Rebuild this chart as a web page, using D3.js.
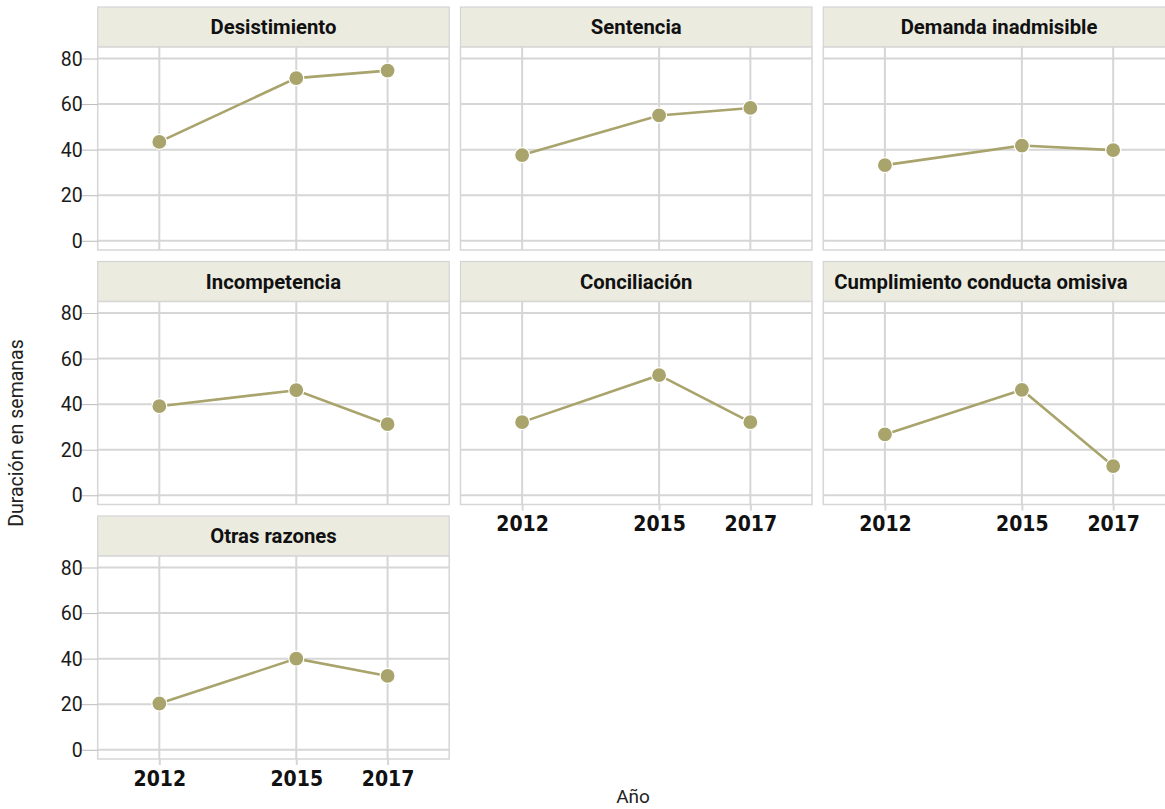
<!DOCTYPE html>
<html>
<head>
<meta charset="utf-8">
<script src="https://cdn.jsdelivr.net/npm/d3@7"></script>
<style>
  body { margin: 0; background: #fff; }
  svg { display: block; }
  .strip-text { font-family: "Roboto", "DejaVu Sans Condensed", sans-serif; font-weight: bold; font-size: 20.3px; fill: #111; }
  .xlab { font-family: "DejaVu Sans Condensed", "Roboto", sans-serif; font-weight: bold; font-size: 21px; fill: #111; }
  .ylab { font-family: "Roboto", "Noto Sans", sans-serif; font-size: 19.5px; fill: #1a1a1a; }
  .title { font-family: "Roboto", "Noto Sans", sans-serif; font-size: 19px; fill: #222; }
</style>
</head>
<body>
<svg id="chart" width="1165" height="809"></svg>
<script>
// ---- Data ----
const categories = [
  "Desistimiento", "Sentencia", "Demanda inadmisible",
  "Incompetencia", "Conciliación", "Cumplimiento conducta omisiva",
  "Otras razones"
];
const years = [2012, 2015, 2017];
const desistimiento = [43.4, 71.4, 74.7];
const sentencia = [37.6, 55.0, 58.3];
const demandaInadmisible = [33.2, 41.8, 39.8];
const incompetencia = [39.1, 46.1, 31.2];
const conciliacion = [32.1, 52.7, 32.1];
const cumplimiento = [26.7, 46.3, 12.8];
const otrasRazones = [20.3, 40.0, 32.4];
const seriesValues = [desistimiento, sentencia, demandaInadmisible, incompetencia, conciliacion, cumplimiento, otrasRazones];
const yTicks = [0, 20, 40, 60, 80];
const xTickLabels = ["2012", "2015", "2017"];
const xTitle = "Año";
const yTitle = "Duración en semanas";

// ---- Layout ----
const svg = d3.select("#chart");
const nCols = 3;
const colLeft = 97.7, colPitch = 362.8;
const rowTop = 7, rowPitch = 254.5;
const stripH = 40, panelW = 351.5, panelH = 203;
const color = "#a9a36c";
const gridColor = "#d6d6d6";

const x = d3.scaleLinear().domain([2010.65, 2018.35]).range([0, panelW]);
const y = d3.scaleLinear().domain([-4.05, 85.05]).range([panelH, 0]);

categories.forEach((cat, i) => {
  const col = i % nCols, row = Math.floor(i / nCols);
  const gx = colLeft + col * colPitch;
  const gy = rowTop + row * rowPitch;
  const g = svg.append("g").attr("transform", `translate(${gx},${gy})`);

  // strip
  g.append("rect").attr("x", 0).attr("y", 0).attr("width", panelW).attr("height", stripH)
    .attr("fill", "#ecebe0").attr("stroke", "#d4d4d4").attr("stroke-width", 1.2);
  const st = g.append("text").attr("class", "strip-text")
    .attr("x", panelW / 2).attr("y", stripH / 2 + 7).attr("text-anchor", "middle").text(cat);
  const tw = st.node().getComputedTextLength();
  if (tw > 250) st.attr("text-anchor", "start").attr("x", 11);

  const p = g.append("g").attr("transform", `translate(0,${stripH})`);
  p.append("rect").attr("width", panelW).attr("height", panelH)
    .attr("fill", "#fff").attr("stroke", gridColor).attr("stroke-width", 1.5);

  // grid
  p.selectAll(".hg").data(yTicks).join("line")
    .attr("x1", 0).attr("x2", panelW).attr("y1", d => y(d)).attr("y2", d => y(d))
    .attr("stroke", gridColor).attr("stroke-width", 2);
  p.selectAll(".vg").data(years).join("line")
    .attr("y1", 0).attr("y2", panelH).attr("x1", d => x(d)).attr("x2", d => x(d))
    .attr("stroke", gridColor).attr("stroke-width", 2);

  // y axis on left column
  if (col === 0) {
    const ya = p.append("g").call(d3.axisLeft(y).tickValues(yTicks).tickSize(16).tickPadding(-1));
    ya.select(".domain").remove();
    ya.selectAll(".tick line").attr("stroke", "#bbb").attr("stroke-width", 1);
    ya.selectAll(".tick text").attr("class", "ylab").attr("dy", "0.34em").attr("fill", null);
    ya.attr("font-family", null).attr("font-size", null);
  }
  // x axis on bottom panel of each column
  const isBottom = (i + nCols >= categories.length);
  if (isBottom) {
    const xa = p.append("g").attr("transform", `translate(0,${panelH})`)
      .call(d3.axisBottom(x).tickValues(years).tickFormat((d, k) => xTickLabels[k]).tickSize(6).tickPadding(6));
    xa.select(".domain").remove();
    xa.selectAll(".tick line").attr("stroke", gridColor).attr("stroke-width", 2);
    xa.selectAll(".tick text").attr("class", "xlab").attr("fill", null);
    xa.attr("font-family", null).attr("font-size", null);
  }

  // data
  const vals = seriesValues[i];
  const pts = years.map((yr, k) => ({ yr, v: vals[k] }));
  p.append("path").datum(pts)
    .attr("d", d3.line().x(d => x(d.yr)).y(d => y(d.v)))
    .attr("fill", "none").attr("stroke", color).attr("stroke-width", 2.6);
  p.selectAll("circle").data(pts).join("circle")
    .attr("cx", d => x(d.yr)).attr("cy", d => y(d.v)).attr("r", 7.5)
    .attr("fill", color).attr("stroke", "#fff").attr("stroke-width", 1.2);
});

// axis titles
svg.append("text").attr("class", "title").attr("x", 633).attr("y", 803)
  .attr("text-anchor", "middle").text(xTitle);
svg.append("text").attr("class", "title").style("font-size", "19.5px")
  .attr("transform", "translate(23,433) rotate(-90)")
  .attr("text-anchor", "middle").text(yTitle);
</script>
</body>
</html>
